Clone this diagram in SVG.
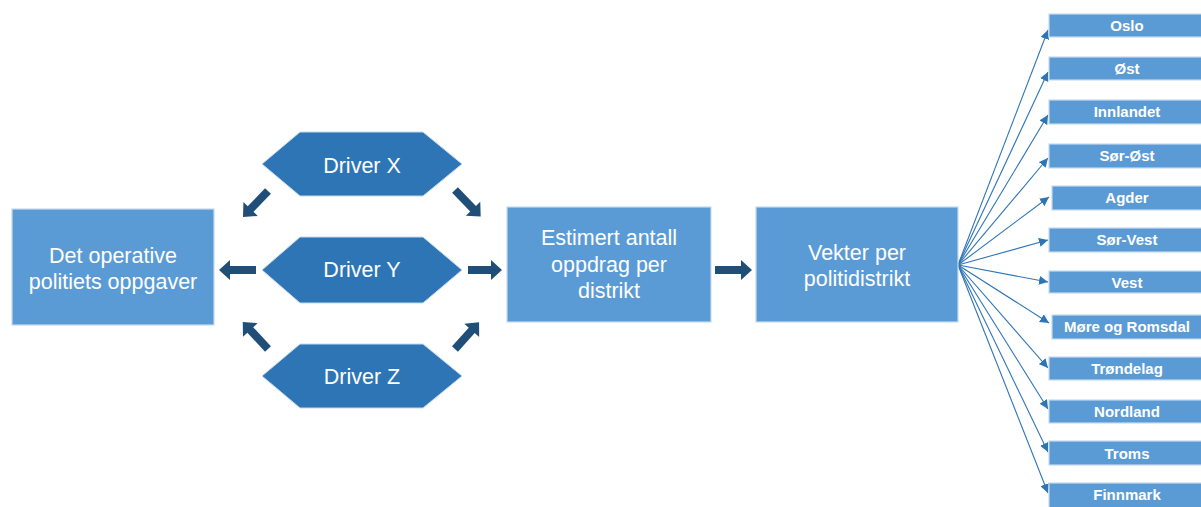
<svg xmlns="http://www.w3.org/2000/svg" width="1201" height="507" viewBox="0 0 1201 507">
<defs>
<style>
.box{fill:#5b9bd5;stroke:#c5daf0;stroke-width:1.2}
.hex{fill:#2e75b6;stroke:#c5daf0;stroke-width:1}
.big{font-family:"Liberation Sans",Arial,sans-serif;font-size:21.5px;fill:#fff;text-anchor:middle}
.sm{font-family:"Liberation Sans",Arial,sans-serif;font-size:15px;font-weight:bold;fill:#fff;text-anchor:middle}
.blk{fill:#1f4e79}
.fan{stroke:#2e75b6;stroke-width:1.1;fill:none;marker-end:url(#ah)}
</style>
<marker id="ah" viewBox="0 0 10 10" refX="10" refY="5" markerWidth="9" markerHeight="9" markerUnits="userSpaceOnUse" orient="auto">
<path d="M0,0 L10,5 L0,10 z" fill="#2e75b6"/>
</marker>
<path id="barrow" d="M0,-4 L-11,-4 L-11,-10 L0,0 L-11,10 L-11,4 z"/>
</defs>
<rect width="1201" height="507" fill="#fff"/>

<g id="connectors">
<g class="blk">
<path transform="translate(256,270) rotate(180)" d="M0,-4 L26,-4 L26,-10 L37,0 L26,10 L26,4 L0,4 z"/>
<path transform="translate(468,270)" d="M0,-4 L23,-4 L23,-10 L34,0 L23,10 L23,4 L0,4 z"/>
<path transform="translate(715,270)" d="M0,-4 L26,-4 L26,-10 L37,0 L26,10 L26,4 L0,4 z"/>
<path transform="translate(268,191) rotate(134)" d="M0,-4 L25,-4 L25,-10 L36,0 L25,10 L25,4 L0,4 z"/>
<path transform="translate(455,190) rotate(46)" d="M0,-4 L26,-4 L26,-10 L37,0 L26,10 L26,4 L0,4 z"/>
<path transform="translate(268,349) rotate(227)" d="M0,-4 L26,-4 L26,-10 L37,0 L26,10 L26,4 L0,4 z"/>
<path transform="translate(455,349) rotate(-48)" d="M0,-4 L25,-4 L25,-10 L36,0 L25,10 L25,4 L0,4 z"/>
</g>
<g>
<line class="fan" x1="958" y1="265" x2="1048" y2="30"/>
<line class="fan" x1="958" y1="265" x2="1048" y2="72"/>
<line class="fan" x1="958" y1="265" x2="1048" y2="115"/>
<line class="fan" x1="958" y1="265" x2="1048" y2="158"/>
<line class="fan" x1="958" y1="265" x2="1049" y2="197"/>
<line class="fan" x1="958" y1="265" x2="1048" y2="240"/>
<line class="fan" x1="958" y1="265" x2="1048" y2="282"/>
<line class="fan" x1="958" y1="265" x2="1049" y2="323"/>
<line class="fan" x1="958" y1="265" x2="1048" y2="368"/>
<line class="fan" x1="958" y1="265" x2="1048" y2="409"/>
<line class="fan" x1="958" y1="265" x2="1048" y2="452"/>
<line class="fan" x1="958" y1="265" x2="1048" y2="493"/>
</g>
</g>

<g id="node-oppgaver">
<rect class="box" x="12" y="209" width="202" height="116"/>
<text class="big" x="113" y="263">Det operative</text>
<text class="big" x="113" y="289">politiets oppgaver</text>
</g>
<g id="node-driver-x">
<polygon class="hex" points="262,164 300,132 423,132 462,164 423,196 300,196"/>
<text class="big" x="362" y="173">Driver X</text>
</g>
<g id="node-driver-y">
<polygon class="hex" points="262,270 300,237 423,237 462,270 423,303 300,303"/>
<text class="big" x="362" y="277">Driver Y</text>
</g>
<g id="node-driver-z">
<polygon class="hex" points="262,376 300,344 423,344 462,376 423,408 300,408"/>
<text class="big" x="362" y="384">Driver Z</text>
</g>
<g id="node-estimert">
<rect class="box" x="507" y="207" width="204" height="115"/>
<text class="big" x="609" y="245">Estimert antall</text>
<text class="big" x="609" y="271.5">oppdrag per</text>
<text class="big" x="609" y="298">distrikt</text>
</g>
<g id="node-vekter">
<rect class="box" x="756" y="207" width="202" height="115"/>
<text class="big" x="857" y="260">Vekter per</text>
<text class="big" x="857" y="286">politidistrikt</text>
</g>

<g id="node-oslo"><rect class="box" x="1049" y="14" width="160" height="23"/><text class="sm" x="1127" y="31">Oslo</text></g>
<g id="node-ost"><rect class="box" x="1049" y="57" width="160" height="23"/><text class="sm" x="1127" y="74">Øst</text></g>
<g id="node-innlandet"><rect class="box" x="1049" y="100" width="160" height="24"/><text class="sm" x="1127" y="117">Innlandet</text></g>
<g id="node-sor-ost"><rect class="box" x="1049" y="144" width="160" height="24"/><text class="sm" x="1127" y="161">Sør-Øst</text></g>
<g id="node-agder"><rect class="box" x="1052" y="186" width="160" height="24"/><text class="sm" x="1127" y="203">Agder</text></g>
<g id="node-sor-vest"><rect class="box" x="1049" y="228" width="160" height="24"/><text class="sm" x="1127" y="245">Sør-Vest</text></g>
<g id="node-vest"><rect class="box" x="1049" y="271" width="160" height="22"/><text class="sm" x="1127" y="287.5">Vest</text></g>
<g id="node-more"><rect class="box" x="1052" y="315" width="160" height="24"/><text class="sm" x="1127" y="332">Møre og Romsdal</text></g>
<g id="node-trondelag"><rect class="box" x="1049" y="357" width="160" height="23"/><text class="sm" x="1127" y="374">Trøndelag</text></g>
<g id="node-nordland"><rect class="box" x="1049" y="400" width="160" height="23"/><text class="sm" x="1127" y="417">Nordland</text></g>
<g id="node-troms"><rect class="box" x="1049" y="441" width="160" height="24"/><text class="sm" x="1127" y="458.5">Troms</text></g>
<g id="node-finnmark"><rect class="box" x="1049" y="483" width="160" height="30"/><text class="sm" x="1127" y="500">Finnmark</text></g>
</svg>
